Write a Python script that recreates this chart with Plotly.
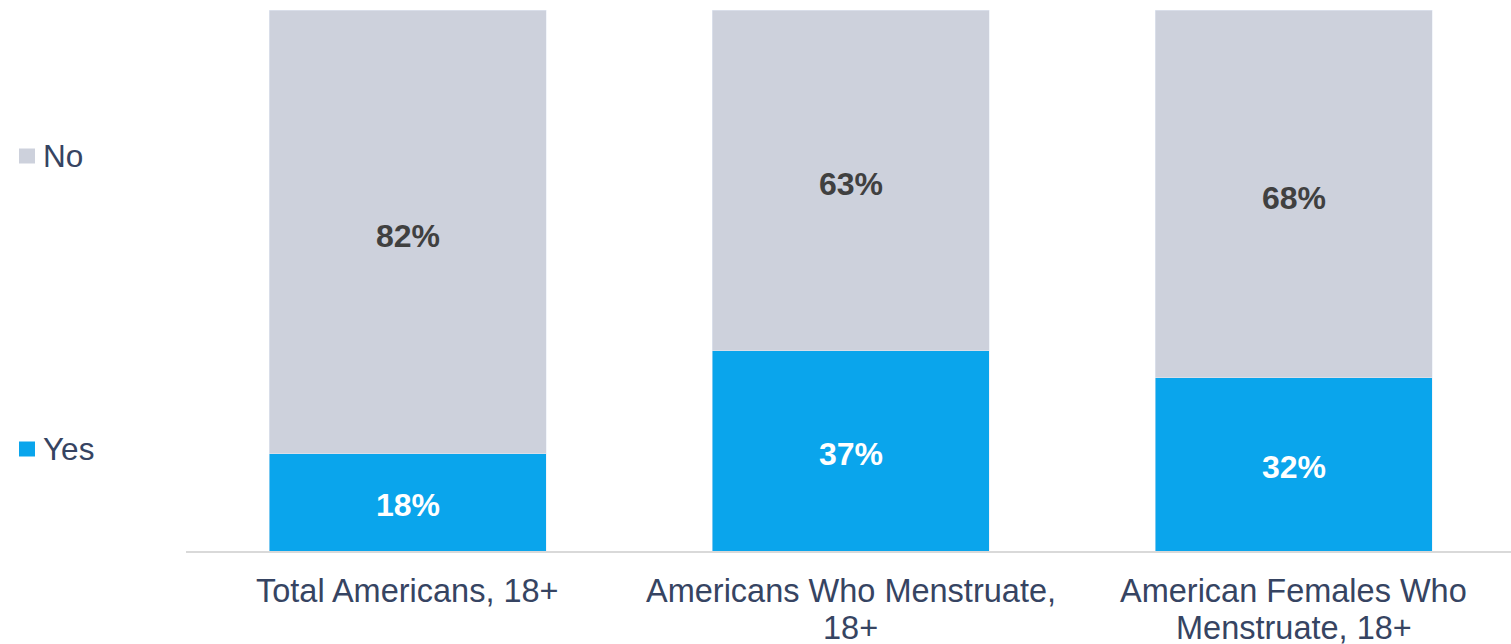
import plotly.graph_objects as go

# Category tick labels, one list entry per printed line
tick_lines = [
    ["Total Americans, 18+"],
    ["Americans Who Menstruate,", "18+"],
    ["American Females Who", "Menstruate, 18+"],
]
categories = [" ".join(lines) for lines in tick_lines]
yes_values = [18, 37, 32]
no_values = [82, 63, 68]

YES_COLOR = "#0AA5EC"
NO_COLOR = "#CDD1DC"
AXIS_TEXT = "#364462"
FONT = "Arial, Liberation Sans, sans-serif"

W, H = 1511, 644
ML, MR, MT, MB = 186, 0, 10, 93
PW, PH = W - ML - MR, H - MT - MB

fig = go.Figure()
fig.add_trace(go.Bar(x=categories, y=yes_values, name="Yes", marker_color=YES_COLOR, width=0.625))
fig.add_trace(go.Bar(x=categories, y=no_values, name="No", marker_color=NO_COLOR, width=0.625))

# Percentage labels centred in each stacked segment
for cat, yv, nv in zip(categories, yes_values, no_values):
    fig.add_annotation(x=cat, y=yv / 2, text=f"<b>{yv}%</b>", showarrow=False, yshift=-3,
                       font=dict(size=32, color="white", family=FONT))
    fig.add_annotation(x=cat, y=yv + nv / 2, text=f"<b>{nv}%</b>", showarrow=False, yshift=-4,
                       font=dict(size=32, color="#404040", family=FONT))

# Category labels under the axis, with a tighter line pitch than the default
for cat, lines in zip(categories, tick_lines):
    for i, line in enumerate(lines):
        fig.add_annotation(x=cat, xref="x", yref="paper", y=0, yanchor="middle",
                           yshift=-40 - 37 * i, text=line, showarrow=False,
                           font=dict(size=32.5, color=AXIS_TEXT, family=FONT))


def px_x(px):
    return (px - ML) / PW


def px_y(py):
    return (H - MB - py) / PH


# Hand-placed legend: small squares with labels on the left side
for label, color, cy in [("No", NO_COLOR, 156), ("Yes", YES_COLOR, 449)]:
    fig.add_shape(type="rect", xref="paper", yref="paper",
                  x0=px_x(19), x1=px_x(35), y0=px_y(cy + 7.5), y1=px_y(cy - 7.5),
                  fillcolor=color, line_width=0)
    fig.add_annotation(xref="paper", yref="paper", x=px_x(41), y=px_y(cy),
                       text=label, showarrow=False, xanchor="left", yanchor="middle",
                       font=dict(size=31.5, color=AXIS_TEXT, family=FONT))

fig.update_layout(
    barmode="stack",
    width=W, height=H,
    margin=dict(l=ML, r=MR, t=MT, b=MB, pad=0, autoexpand=False),
    paper_bgcolor="white", plot_bgcolor="white",
    showlegend=False,
    font=dict(family=FONT),
    xaxis=dict(range=[-0.5, 2.49], showline=True, linecolor="#D9D9D9", linewidth=2,
               ticks="", showgrid=False, zeroline=False, showticklabels=False,
               automargin=False),
    yaxis=dict(range=[0, 100], visible=False, showgrid=False, zeroline=False, automargin=False),
)

fig.write_html("out.html")
